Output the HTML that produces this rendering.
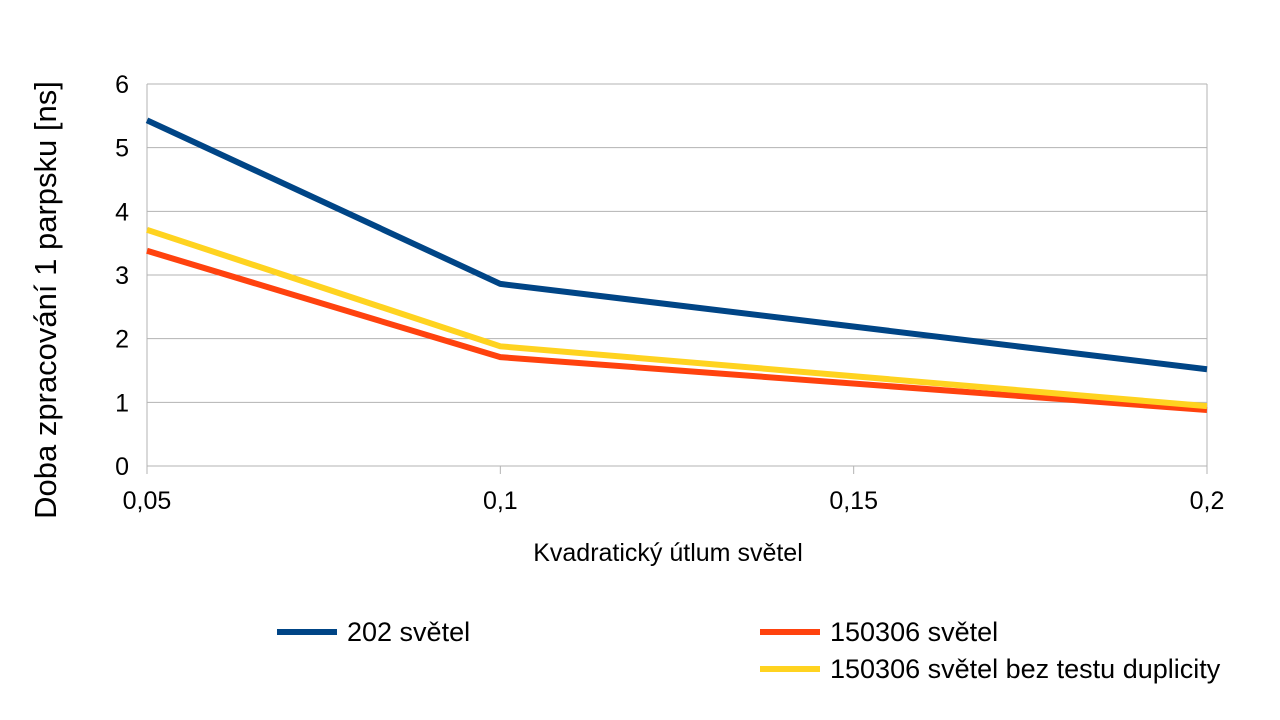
<!DOCTYPE html>
<html><head><meta charset="utf-8"><style>
body{margin:0;background:#fff;}
svg{display:block;font-family:"Liberation Sans",sans-serif;}
</style></head><body>
<svg id="chart" width="1280" height="720">
<g id="grid"></g><g id="axes"></g><g id="series"></g><g id="legend"></g>
<text x="56" y="300" font-size="31" text-anchor="middle" transform="rotate(-90 56 300)">Doba zpracování 1 parpsku [ns]</text>
<text x="668" y="561" font-size="25" text-anchor="middle">Kvadratický útlum světel</text>
</svg>
<script>
const xValues=[0.05,0.1,0.2];
const xTicks=[0.05,0.1,0.15,0.2];
const xTickLabels=["0,05","0,1","0,15","0,2"];
const yTicks=[0,1,2,3,4,5,6];
const series202=[5.43,2.86,1.52];
const series150306=[3.38,1.71,0.88];
const series150306NoDup=[3.71,1.88,0.94];
const seriesNames=["202 světel","150306 světel","150306 světel bez testu duplicity"];
const seriesColors=["#004586","#ff420e","#ffd320"];
const NS="http://www.w3.org/2000/svg";
const X=v=>147+(v-0.05)/(0.2-0.05)*(1207-147);
const Y=v=>466-v*(466-84)/6;
function mk(t,a,p){const e=document.createElementNS(NS,t);for(const k in a)e.setAttribute(k,a[k]);p.appendChild(e);return e;}
const grid=document.getElementById('grid'),axes=document.getElementById('axes'),ser=document.getElementById('series'),leg=document.getElementById('legend');
yTicks.forEach(v=>{
 const l=mk('line',{x1:147,x2:1207,y1:Y(v),y2:Y(v),stroke:'#b3b3b3','stroke-width':1},grid);
 
 
 const t=mk('text',{x:129,y:Y(v)+9,'font-size':25,'text-anchor':'end'},axes);t.textContent=v;
 
 
});
mk('line',{x1:1207,x2:1207,y1:84,y2:466,stroke:'#b3b3b3'},grid);
xTicks.forEach((v,i)=>{
 const l=mk('line',{x1:X(v),x2:X(v),y1:466,y2:474,stroke:'#b3b3b3'},axes);
 
 
 const t=mk('text',{x:X(v),y:509,'font-size':25,'text-anchor':'middle'},axes);t.textContent=xTickLabels[i];
 
 
});
mk('line',{x1:147,x2:147,y1:84,y2:466,stroke:'#b3b3b3'},axes);
[series202,series150306,series150306NoDup].forEach((s,i)=>{
 const p=mk('polyline',{points:s.map((v,j)=>X(xValues[j])+','+Y(v)).join(' '),fill:'none',stroke:seriesColors[i],'stroke-width':6,'stroke-linejoin':'round'},ser);
 
 
});
const legPos=[[277,632],[760,632],[760,669]];
seriesNames.forEach((n,i)=>{
 const [lx,ly]=legPos[i];
 const l=mk('line',{x1:lx,x2:lx+60,y1:ly,y2:ly,stroke:seriesColors[i],'stroke-width':6},leg);
 
 
 const t=mk('text',{x:lx+70,y:ly+9,'font-size':27},leg);t.textContent=n;
 
 
});
</script>
</body></html>
